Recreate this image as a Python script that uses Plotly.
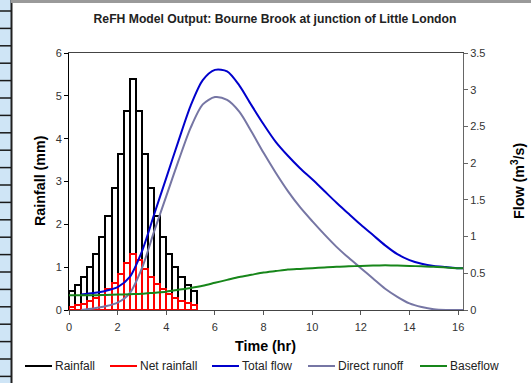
"""ReFH model output: rainfall hyetograph with flow hydrograph."""

import plotly.graph_objects as go

# rainfall blocks (0.25 hr each), left axis
rain_start_hr = [0.0, 0.25, 0.5, 0.75, 1.0, 1.25, 1.5, 1.75, 2.0, 2.25, 2.5,
                 2.75, 3.0, 3.25, 3.5, 3.75, 4.0, 4.25, 4.5, 4.75, 5.0]
rainfall_mm = [0.45, 0.58, 0.77, 1.00, 1.30, 1.70, 2.20, 2.85, 3.65, 4.65, 5.40,
               4.65, 3.65, 2.85, 2.20, 1.70, 1.30, 1.00, 0.77, 0.58, 0.45]
net_rainfall_mm = [0.08, 0.11, 0.15, 0.20, 0.27, 0.36, 0.48, 0.64, 0.85, 1.10, 1.31,
                   1.17, 0.95, 0.76, 0.61, 0.48, 0.38, 0.29, 0.21, 0.16, 0.12]

# hydrograph, right axis (m3/s)
flow_time_hr = [0, 0.5, 1, 1.5, 2, 2.5, 3, 3.5, 4, 4.5, 5, 5.5, 6, 6.5, 7, 7.5, 8,
                8.5, 9, 9.5, 10, 10.5, 11, 11.5, 12, 12.5, 13, 13.5, 14, 14.5, 15,
                15.5, 16, 16.25]
total_flow = [None, 0.21, 0.23, 0.26, 0.31, 0.45, 0.80, 1.30, 1.80, 2.30, 2.78, 3.13,
              3.27, 3.25, 3.06, 2.79, 2.53, 2.29, 2.10, 1.93, 1.78, 1.62, 1.46, 1.31,
              1.16, 1.02, 0.88, 0.76, 0.68, 0.63, 0.60, 0.585, 0.57, 0.57]
direct_runoff = [None, 0.0, 0.02, 0.05, 0.10, 0.23, 0.57, 1.07, 1.55, 2.03, 2.48, 2.80,
                 2.90, 2.86, 2.70, 2.43, 2.14, 1.87, 1.62, 1.40, 1.21, 1.03, 0.86, 0.71,
                 0.57, 0.43, 0.29, 0.18, 0.09, 0.04, 0.01, 0.0, 0.0, 0.0]
baseflow = [0.20, 0.20, 0.20, 0.205, 0.21, 0.215, 0.22, 0.235, 0.25, 0.275, 0.30, 0.33,
            0.37, 0.41, 0.45, 0.48, 0.51, 0.53, 0.55, 0.56, 0.57, 0.58, 0.59, 0.595,
            0.60, 0.605, 0.61, 0.605, 0.60, 0.595, 0.59, 0.58, 0.57, 0.57]

series_names = ["Rainfall", "Net rainfall", "Total flow", "Direct runoff", "Baseflow"]
series_colors = ["black", "#ff0000", "#0000cc", "#7676a4", "#17861a"]

FONT = "Liberation Sans, Arial, sans-serif"
W, H = 531, 383

# plot area in pixels (used only for the decorative frame / labels)
L, R, T, B = 69, 463, 53, 310


def px_x(p):
    return (p - L) / (R - L)


def px_y(p):
    return (B - p) / (B - T)


fig = go.Figure()

fig.add_trace(go.Bar(
    x=rain_start_hr, y=rainfall_mm, width=0.25, offset=0, name=series_names[0],
    marker=dict(color="white", line=dict(color=series_colors[0], width=2)),
))
fig.add_trace(go.Bar(
    x=rain_start_hr, y=net_rainfall_mm, width=0.25, offset=0, name=series_names[1],
    marker=dict(color="white", line=dict(color=series_colors[1], width=2)),
))

for name, ys, col in zip(series_names[2:], [total_flow, direct_runoff, baseflow],
                         series_colors[2:]):
    fig.add_trace(go.Scatter(
        x=flow_time_hr, y=ys, mode="lines", name=name, yaxis="y2",
        line=dict(color=col, width=2, shape="spline", smoothing=0.8),
        connectgaps=False
    ))

# spreadsheet strip on the left + frame
shapes = [
    dict(type="rect", xref="paper", yref="paper", x0=px_x(0), x1=px_x(11),
         y0=px_y(H), y1=px_y(0), fillcolor="#cfe5f6", line=dict(width=0), layer="below"),
    dict(type="line", xref="paper", yref="paper", x0=px_x(11.5), x1=px_x(11.5),
         y0=px_y(H), y1=px_y(0), line=dict(color="#202020", width=2)),
    dict(type="line", xref="paper", yref="paper", x0=px_x(11), x1=px_x(W),
         y0=px_y(1.5), y1=px_y(1.5), line=dict(color="#9a9a9a", width=3)),
]
row = 11.0
while row < H:
    shapes.append(dict(type="line", xref="paper", yref="paper", x0=px_x(0), x1=px_x(11),
                       y0=px_y(row), y1=px_y(row), line=dict(color="#1a1a1a", width=1.5)))
    row += 17.4

title_font = dict(size=14.3, color="black", family=FONT)
annotations = [
    dict(text="<b>Rainfall (mm)</b>", xref="paper", yref="paper", x=px_x(40), y=px_y(181),
         xanchor="center", yanchor="middle", showarrow=False, textangle=-90,
         font=title_font),
    dict(text="<b>Flow (m<sup>3</sup>/s)</b>", xref="paper", yref="paper", x=px_x(518),
         y=px_y(181), xanchor="center", yanchor="middle", showarrow=False, textangle=-90,
         font=title_font),
    dict(text="<b>Time (hr)</b>", xref="paper", yref="paper", x=px_x(265), y=px_y(346),
         xanchor="center", yanchor="middle", showarrow=False, font=title_font),
]

# legend drawn by hand: short line + label, as in the original
legend_line_x = [25, 110, 212, 308, 420]
for x0, name, col in zip(legend_line_x, series_names, series_colors):
    shapes.append(dict(type="line", xref="paper", yref="paper",
                       x0=px_x(x0), x1=px_x(x0 + 27), y0=px_y(366), y1=px_y(366),
                       line=dict(color=col, width=2)))
    annotations.append(dict(text=name, xref="paper", yref="paper", x=px_x(x0 + 28),
                            y=px_y(366), xanchor="left", yanchor="middle", showarrow=False,
                            font=dict(size=12, color="#222222", family=FONT)))

fig.update_layout(
    width=W, height=H,
    margin=dict(l=L, r=W - R, t=T, b=H - B, autoexpand=False),
    paper_bgcolor="white", plot_bgcolor="white",
    barmode="overlay", bargap=0, showlegend=False,
    font=dict(family=FONT, size=11, color="#333333"),
    title=dict(text="<b>ReFH Model Output: Bourne Brook at junction of Little London</b>",
               x=275 / W, xref="container", xanchor="center",
               y=1 - 19 / H, yref="container", yanchor="middle",
               font=dict(size=12.2, color="#222222", family=FONT)),
    xaxis=dict(range=[0, 16.2], tickmode="array", tickvals=list(range(0, 17, 2)),
               ticks="outside", ticklen=4, tickcolor="#555555", ticklabelstandoff=3,
               showline=True, linecolor="#444444", linewidth=1, mirror=True,
               showgrid=False, zeroline=False, automargin=False),
    yaxis=dict(range=[0, 6], dtick=1, ticks="outside", ticklen=4, tickcolor="black",
               showline=True, linecolor="black", linewidth=1,
               showgrid=False, zeroline=False, automargin=False),
    yaxis2=dict(range=[0, 3.5], dtick=0.5, overlaying="y", side="right",
                ticks="outside", ticklen=4, tickcolor="#666666",
                showline=True, linecolor="#666666", linewidth=1,
                showgrid=False, zeroline=False, automargin=False),
    shapes=shapes,
    annotations=annotations,
)

# the page's default 8px body margin would shift the figure
fig.write_html("out.html", config={"displayModeBar": False},
               post_script="document.body.style.margin='0';")
